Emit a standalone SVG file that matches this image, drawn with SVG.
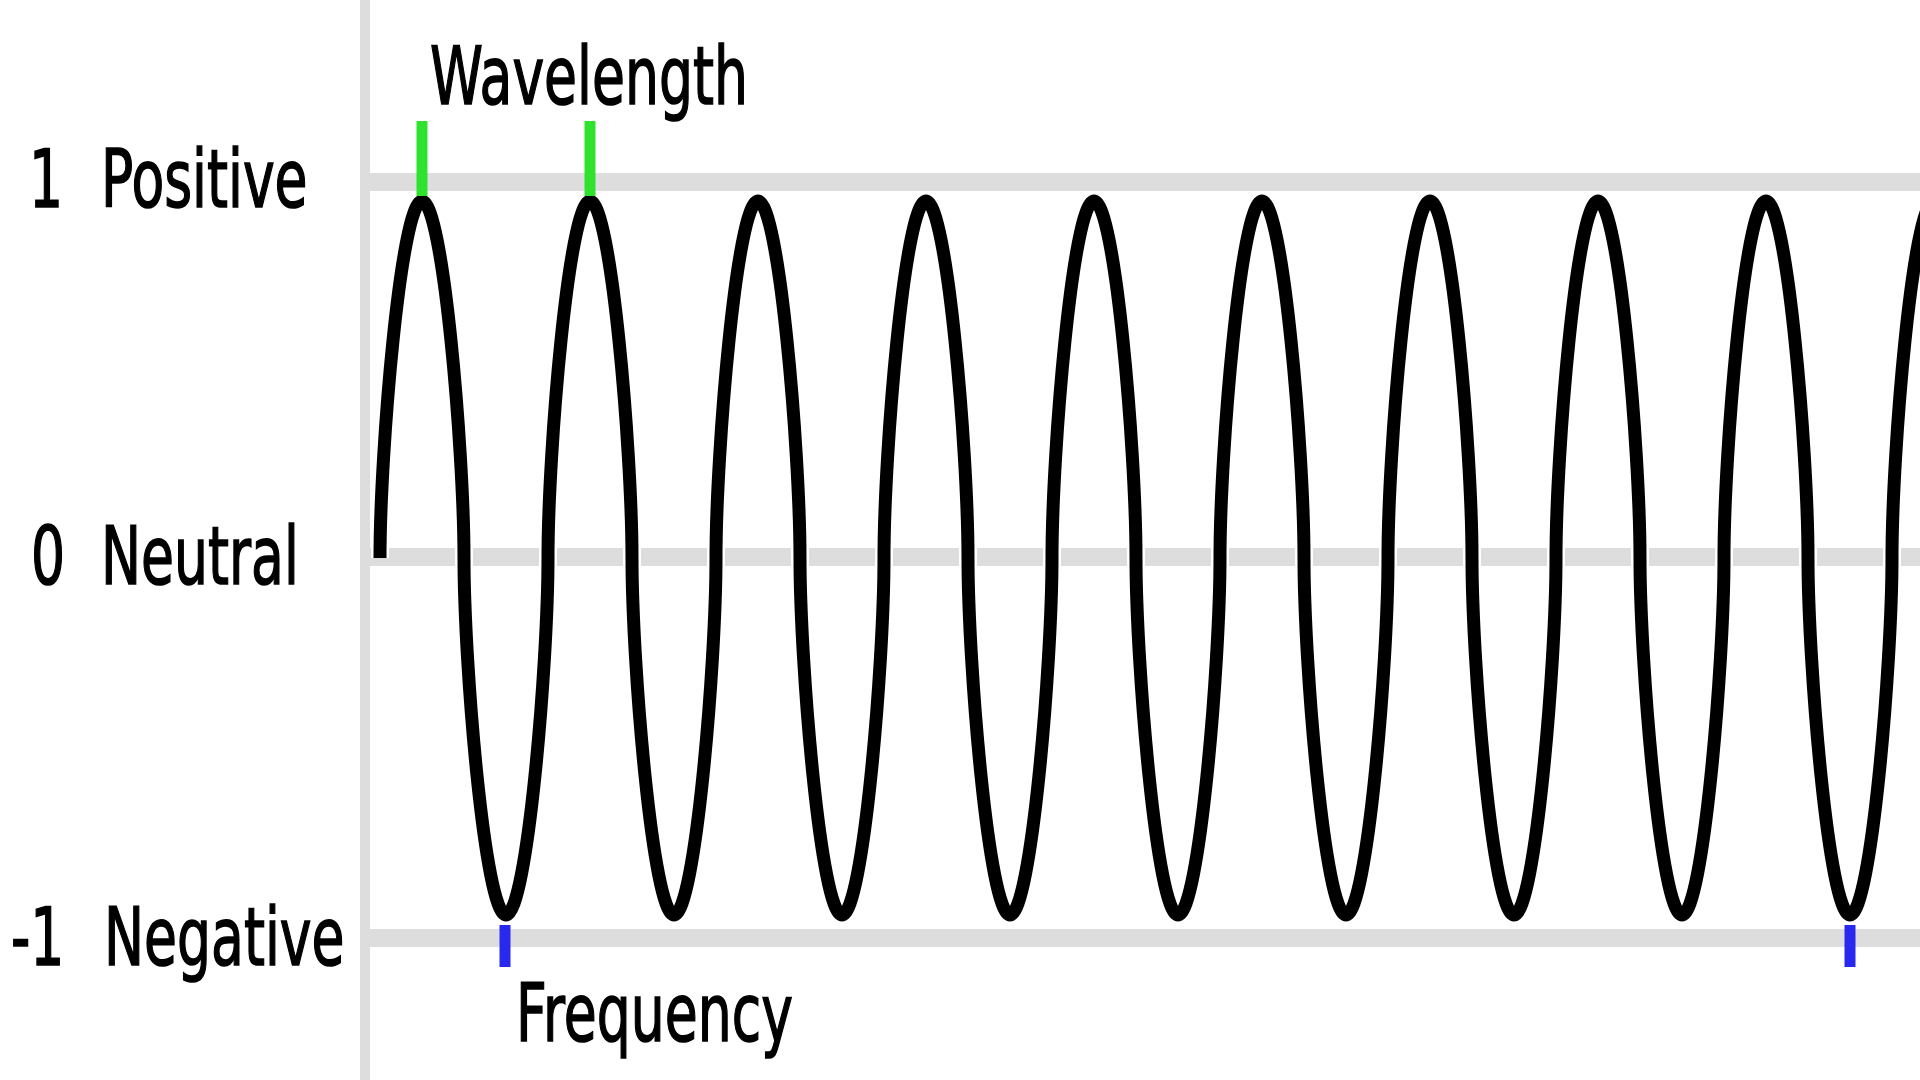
<svg xmlns="http://www.w3.org/2000/svg" width="1920" height="1080" viewBox="0 0 1920 1080">
<style>
.grid{stroke:#dddddd;fill:none}
.lbl{font-family:"DejaVu Sans","Liberation Sans",sans-serif;font-size:80px;fill:#000;stroke:#000;stroke-width:1.6}
.wave{fill:none;stroke:#000;stroke-width:13;stroke-linecap:butt;stroke-linejoin:round}
.halo{fill:none;stroke:#fff;stroke-width:18;stroke-linecap:butt}
.green{stroke:#2ee22e;stroke-width:11}
.blue{stroke:#2828ee;stroke-width:11}
</style>
<defs>
<path id="wavepath" d="M380,558 c0,-107.1 21,-357 42,-357 c21,0 42,249.9 42,357 c0,107.1 21,357 42,357 c21,0 42,-249.9 42,-357 c0,-107.1 21,-357 42,-357 c21,0 42,249.9 42,357 c0,107.1 21,357 42,357 c21,0 42,-249.9 42,-357 c0,-107.1 21,-357 42,-357 c21,0 42,249.9 42,357 c0,107.1 21,357 42,357 c21,0 42,-249.9 42,-357 c0,-107.1 21,-357 42,-357 c21,0 42,249.9 42,357 c0,107.1 21,357 42,357 c21,0 42,-249.9 42,-357 c0,-107.1 21,-357 42,-357 c21,0 42,249.9 42,357 c0,107.1 21,357 42,357 c21,0 42,-249.9 42,-357 c0,-107.1 21,-357 42,-357 c21,0 42,249.9 42,357 c0,107.1 21,357 42,357 c21,0 42,-249.9 42,-357 c0,-107.1 21,-357 42,-357 c21,0 42,249.9 42,357 c0,107.1 21,357 42,357 c21,0 42,-249.9 42,-357 c0,-107.1 21,-357 42,-357 c21,0 42,249.9 42,357 c0,107.1 21,357 42,357 c21,0 42,-249.9 42,-357 c0,-107.1 21,-357 42,-357 c21,0 42,249.9 42,357 c0,107.1 21,357 42,357 c21,0 42,-249.9 42,-357 c0,-107.1 21,-357 42,-357"/>
</defs>
<rect width="1920" height="1080" fill="#ffffff"/>
<g id="axes">
<line class="grid" x1="365" y1="0" x2="365" y2="1080" stroke-width="10"/>
<line class="grid" x1="370" y1="182" x2="1920" y2="182" stroke-width="18"/>
<line class="grid" x1="370" y1="557" x2="1920" y2="557" stroke-width="18"/>
<line class="grid" x1="370" y1="938" x2="1920" y2="938" stroke-width="18"/>
</g>
<g id="labels">
<text class="lbl" transform="translate(29,207) scale(0.67,1)">1</text>
<text class="lbl" transform="translate(101,207) scale(0.67,1)">Positive</text>
<text class="lbl" transform="translate(31,584) scale(0.67,1)">0</text>
<text class="lbl" transform="translate(101,584) scale(0.67,1)">Neutral</text>
<text class="lbl" transform="translate(11,965) scale(0.67,1)">-1</text>
<text class="lbl" transform="translate(104,965) scale(0.67,1)">Negative</text>
</g>
<g id="wave">
<use href="#wavepath" class="halo"/>
<use href="#wavepath" class="wave"/>
</g>
<g id="wavelength">
<line class="green" x1="422" y1="121" x2="422" y2="196"/>
<line class="green" x1="590" y1="121" x2="590" y2="196"/>
<text class="lbl" transform="translate(430,104) scale(0.67,1)">Wavelength</text>
</g>
<g id="frequency">
<line class="blue" x1="505" y1="925" x2="505" y2="967"/>
<line class="blue" x1="1850" y1="925" x2="1850" y2="967"/>
<text class="lbl" transform="translate(516,1041) scale(0.67,1)">Frequency</text>
</g>
</svg>
